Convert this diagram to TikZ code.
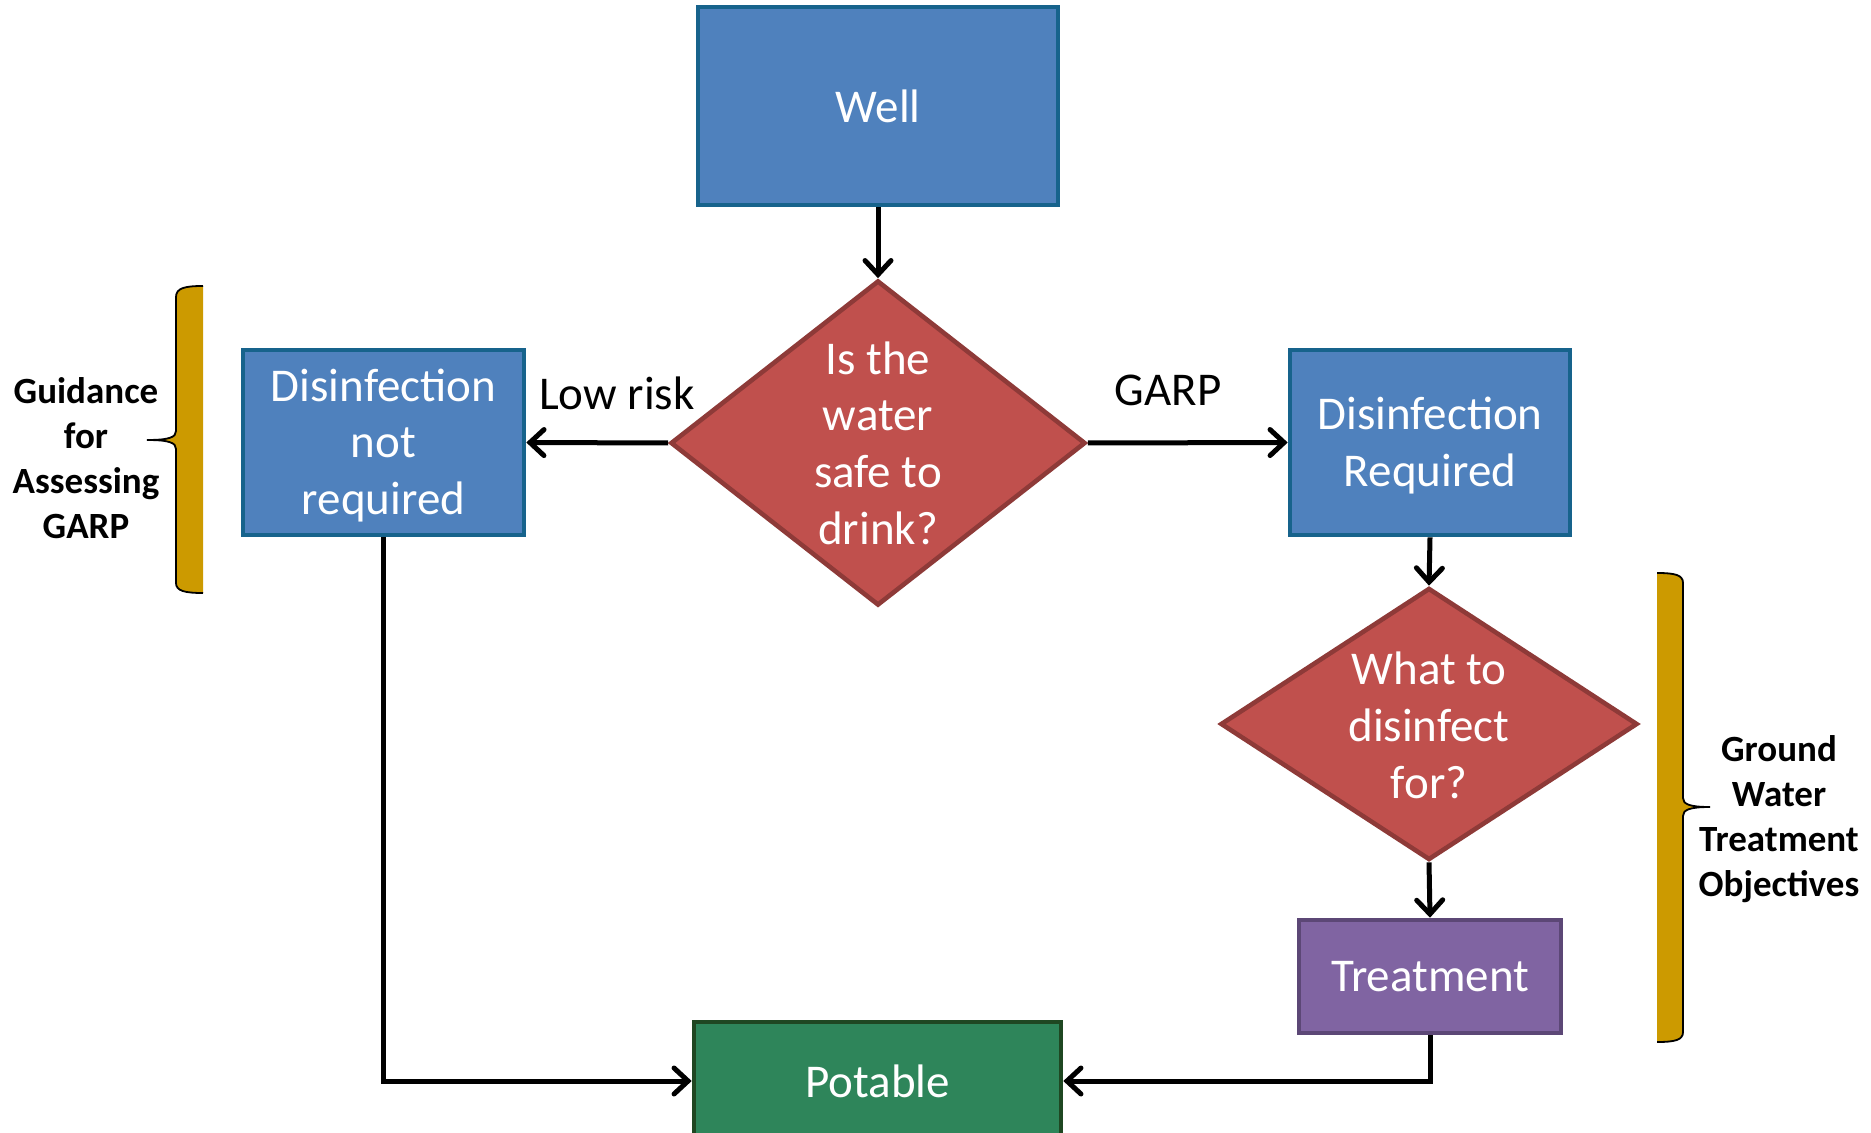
\documentclass[tikz,border=0pt]{standalone}
\usepackage{fontspec}
\setmainfont{Carlito}
\usetikzlibrary{shapes.geometric,arrows.meta}
\definecolor{bfill}{HTML}{4F81BD}
\definecolor{bline}{HTML}{17638C}
\definecolor{rfill}{HTML}{C0504D}
\definecolor{rline}{HTML}{8E3A38}
\definecolor{pfill}{HTML}{8064A2}
\definecolor{pline}{HTML}{5C4776}
\definecolor{gfill}{HTML}{2E855A}
\definecolor{gline}{HTML}{1F4722}
\definecolor{gold}{HTML}{CC9A00}
\newcommand{\mlines}[2][-0.35em]{\smash{\raisebox{#1}{\begin{tabular}{@{}c@{}}#2\end{tabular}}}}
\begin{document}
\begin{tikzpicture}[x=0.5pt,y=-0.5pt,
  box/.style={draw=bline,fill=bfill,line width=2.3pt,text=white,align=center,inner sep=0pt,
    font=\fontsize{23.5}{28.4}\selectfont},
  dia/.style={shape=diamond,draw=rline,fill=rfill,line width=2.3pt,text=white,inner sep=0pt,
    font=\fontsize{23.5}{28.4}\selectfont},
  conn/.style={line width=2.5pt,-{Straight Barb[length=7pt,width=13pt,line width=2.5pt,line cap=round]}},
  lab/.style={font=\fontsize{23.5}{28.4}\selectfont},
  side/.style={font=\bfseries\fontsize{18.5}{22.5}\selectfont,align=center},
  bracefill/.style={fill=gold},
  braceline/.style={draw=black,line width=0.9pt}]
\useasboundingbox (0,0) rectangle (1871,1133);
\clip (0,0) rectangle (1871,1133);

\node[box,minimum width=180pt,minimum height=99pt] (well) at (878,106) {Well};
\node[dia,minimum width=207.5pt,minimum height=162.5pt] (d1) at (878,443)
  {\mlines[-0.37em]{Is the\\water\\safe to\\drink?}};
\node[box,minimum width=140.5pt,minimum height=92.5pt] (dnr) at (383.5,442.5) {\mlines{Disinfection\\not\\required}};
\node[box,minimum width=140pt,minimum height=92.5pt] (dr) at (1430,442.5) {\mlines{Disinfection\\Required}};
\node[dia,minimum width=208.5pt,minimum height=136pt] (d2) at (1429,724)
  {\mlines[-0.4em]{What to\\disinfect\\for?}};
\node[box,draw=pline,fill=pfill,minimum width=131pt,minimum height=56.5pt] (treat) at (1430,976.5) {Treatment};
\node[box,draw=gline,fill=gfill,minimum width=183.5pt,minimum height=59pt] (pot) at (877.5,1081) {Potable};

\draw[conn] (well.south) -- (d1.north);
\draw[conn] (d1.west) -- (dnr.east);
\draw[conn] (d1.east) -- (dr.west);
\draw[conn] (dr.south) -- (d2.north);
\draw[conn] (d2.south) -- (treat.north);
\draw[conn] (dnr.south) |- (pot.west);
\draw[conn] (treat.south) |- (pot.east);

\node[lab] (lowrisk) at (617,393) {Low risk};
\node[lab] (garp) at (1168,390) {GARP};

% left brace
\fill[bracefill] (203,286) .. controls (185,286) and (176,288) .. (176,297) -- (176,431)
  .. controls (176,437) and (170,440) .. (147,440) .. controls (170,440) and (176,443) .. (176,449)
  -- (176,583) .. controls (176,591) and (185,593) .. (203,593) -- cycle;
\draw[braceline] (203,286) .. controls (185,286) and (176,288) .. (176,297) -- (176,431)
  .. controls (176,437) and (170,440) .. (147,440) .. controls (170,440) and (176,443) .. (176,449)
  -- (176,583) .. controls (176,591) and (185,593) .. (203,593);
\node[side] (ltext) at (86,458) {Guidance\\for\\Assessing\\GARP};

% right brace
\fill[bracefill] (1657,573) .. controls (1675,573) and (1683,575) .. (1683,583) -- (1683,798)
  .. controls (1683,804) and (1689,807) .. (1710,807) .. controls (1689,807) and (1683,810) .. (1683,816)
  -- (1683,1032) .. controls (1683,1040) and (1675,1042) .. (1657,1042) -- cycle;
\draw[braceline] (1657,573) .. controls (1675,573) and (1683,575) .. (1683,583) -- (1683,798)
  .. controls (1683,804) and (1689,807) .. (1710,807) .. controls (1689,807) and (1683,810) .. (1683,816)
  -- (1683,1032) .. controls (1683,1040) and (1675,1042) .. (1657,1042);
\node[side] (rtext) at (1779,819) {Ground\\Water\\Treatment\\Objectives};
\end{tikzpicture}
\end{document}
